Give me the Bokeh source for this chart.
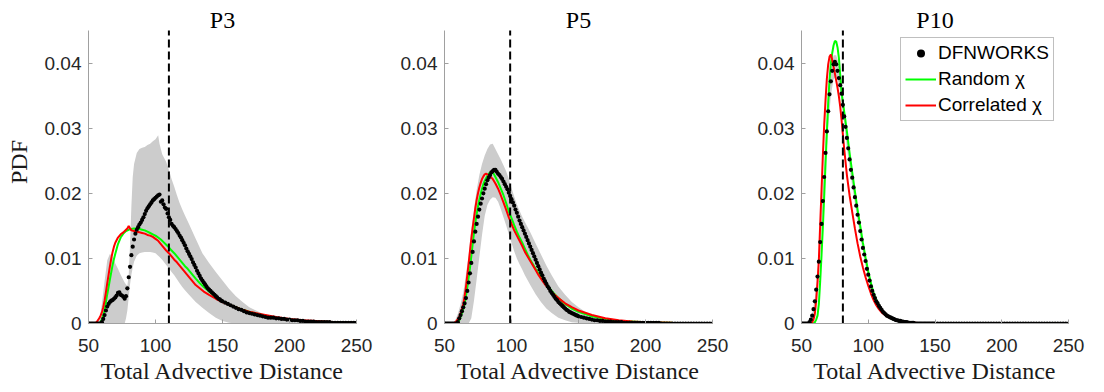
from bokeh.plotting import figure
from bokeh.layouts import row
from bokeh.models import (Range1d, FixedTicker, Legend, LegendItem, Label,
                          CustomJSTickFormatter)
from bokeh.embed import file_html
from bokeh.resources import INLINE

# ---------------- data ----------------
titles = ["P3", "P5", "P10"]
mean_dist = [110, 99, 81]
x_ticks = [50, 100, 150, 200, 250]
y_ticks = [0, 0.01, 0.02, 0.03, 0.04]
y_max = 0.045

# DFNWORKS bins: unit bins up to 150, then every other bin
dfn_x = list(range(50, 151)) + list(range(152, 251, 2))

p3_dfn = [0.0] * 10 + [
    0.0002, 0.0007, 0.0013, 0.0020, 0.0026, 0.0030, 0.0033, 0.0035, 0.0036, 0.0038,
    0.0040, 0.0043, 0.0047, 0.0048, 0.0044, 0.0043, 0.0041, 0.0038, 0.0042, 0.0054,
    0.0071, 0.0087, 0.0105, 0.0118, 0.0129, 0.0138, 0.0144, 0.0148, 0.0152, 0.0155,
    0.0159, 0.0163, 0.0168, 0.0173, 0.0177, 0.0180, 0.0183, 0.0186, 0.0189, 0.0191,
    0.0193, 0.0195, 0.0197, 0.0198, 0.0187, 0.0189, 0.0183, 0.0178, 0.0176, 0.0169,
    0.0163, 0.0159, 0.0153, 0.0150, 0.0148, 0.0145, 0.0142, 0.0139, 0.0135, 0.0132,
    0.0128, 0.0124, 0.0120, 0.0115, 0.0111, 0.0107, 0.0103, 0.0099, 0.0094, 0.0090,
    0.0086, 0.0081, 0.0077, 0.0073, 0.0069, 0.0066, 0.0063, 0.0060, 0.0057, 0.0054,
    0.0052, 0.0050, 0.0048, 0.0046, 0.0044, 0.0042, 0.0040, 0.0038, 0.0037, 0.0035,
    0.0034,
    0.0032, 0.0030, 0.0028, 0.0026, 0.0024, 0.0022, 0.0021, 0.0019, 0.0017, 0.0016,
    0.0015, 0.0014, 0.0013, 0.0012, 0.0011, 0.0010, 0.0009, 0.0009, 0.0009, 0.0008,
    0.0008, 0.0007, 0.0007, 0.0006, 0.0006, 0.0005, 0.0005, 0.0005, 0.0004, 0.0004,
    0.0003, 0.0003, 0.0003, 0.0003, 0.0002, 0.0002, 0.0002, 0.0002, 0.0002, 0.0002,
    0.0001, 0.0001, 0.0001, 0.0001, 0.0001, 0.0001, 0.0001, 0.0001, 0.0001, 0.0001]

p5_dfn = [0.0] * 10 + [
    0.0002, 0.0008, 0.0013, 0.0019, 0.0025, 0.0031, 0.0039, 0.0050, 0.0063, 0.0077,
    0.0093, 0.0110, 0.0126, 0.0141, 0.0153, 0.0164, 0.0175, 0.0184, 0.0192, 0.0200,
    0.0207, 0.0214, 0.0220, 0.0224, 0.0228, 0.0232, 0.0234, 0.0236, 0.0236, 0.0233,
    0.0230, 0.0228, 0.0225, 0.0222, 0.0218, 0.0214, 0.0210, 0.0206, 0.0201, 0.0196,
    0.0191, 0.0186, 0.0181, 0.0175, 0.0170, 0.0164, 0.0158, 0.0153, 0.0148, 0.0143,
    0.0138, 0.0133, 0.0128, 0.0123, 0.0118, 0.0113, 0.0108, 0.0103, 0.0098, 0.0093,
    0.0088, 0.0083, 0.0078, 0.0074, 0.0069, 0.0065, 0.0061, 0.0057, 0.0054, 0.0050,
    0.0047, 0.0044, 0.0041, 0.0038, 0.0036, 0.0033, 0.0031, 0.0029, 0.0027, 0.0025,
    0.0023, 0.0021, 0.0020, 0.0018, 0.0017, 0.0016, 0.0015, 0.0014, 0.0013, 0.0012,
    0.0011,
    0.0010, 0.0009, 0.0008, 0.0007, 0.0006, 0.0005, 0.0005, 0.0004, 0.0004, 0.0003,
    0.0003, 0.0003, 0.0002, 0.0002, 0.0002, 0.0002, 0.0001, 0.0001, 0.0001, 0.0001,
    0.0001, 0.0001, 0.0001, 0.0001, 0.0001, 0.0001, 0.0001, 0.0001, 0.0001, 0.0001] + [0.0] * 20

p10_dfn = [0.0] * 6 + [
    0.0002, 0.0006, 0.0012, 0.0022, 0.0034, 0.0052, 0.0072, 0.0095, 0.0125, 0.0153,
    0.0188, 0.0225, 0.0262, 0.0295, 0.0326, 0.0352, 0.0372, 0.0388, 0.0398, 0.0402,
    0.0398, 0.0388, 0.0377, 0.0366, 0.0353, 0.0336, 0.0318, 0.0302, 0.0285, 0.0269,
    0.0252, 0.0236, 0.0224, 0.0209, 0.0194, 0.0181, 0.0167, 0.0155, 0.0142, 0.0129,
    0.0116, 0.0106, 0.0096, 0.0084, 0.0075, 0.0066, 0.0057, 0.0050, 0.0044, 0.0039,
    0.0034, 0.0031, 0.0027, 0.0024, 0.0021, 0.0018, 0.0016, 0.0014, 0.0012, 0.0011,
    0.0010, 0.0009, 0.0008, 0.0007, 0.0006, 0.0005, 0.0005, 0.0004, 0.0004, 0.0003,
    0.0003, 0.0002, 0.0002, 0.0002, 0.0001, 0.0001, 0.0001, 0.0001, 0.0001] + [0.0] * 16 + [0.0] * 50

# Random chi (green)
p3_rand_x = [50, 58, 59, 60, 61, 62, 63, 64, 65, 66, 67, 68, 69, 70,
             72, 74, 76, 78, 80, 82, 84, 86, 88, 90, 92, 94, 96, 98, 100, 102,
             104, 106, 108, 110, 112, 114, 116, 118, 120, 122, 124, 126, 128, 130,
             133, 136, 140, 145, 150, 155, 160, 165, 170, 180, 190, 200, 210, 220, 235, 250]
p3_rand_y = [0, 0, 0.0002, 0.0006, 0.0012, 0.0020, 0.0033, 0.0045, 0.0056, 0.0068, 0.0079, 0.0090, 0.0099, 0.0107,
             0.0122, 0.0132, 0.0138, 0.0142, 0.0144, 0.0145, 0.0146, 0.0146, 0.0145, 0.0144, 0.0143, 0.0141, 0.0139, 0.0137, 0.0135, 0.0132,
             0.0129, 0.0125, 0.0121, 0.0117, 0.0112, 0.0108, 0.0103, 0.0098, 0.0093, 0.0088, 0.0084, 0.0079, 0.0074, 0.0069,
             0.0062, 0.0056, 0.0049, 0.0041, 0.0034, 0.0029, 0.0025, 0.0021, 0.0018, 0.0013, 0.0009, 0.0006, 0.0004, 0.0003, 0.0002, 0.0001]

p5_rand_x = [50, 59] + list(range(60, 89)) + list(range(90, 123, 2)) + [125, 130, 135, 140, 145, 150, 160, 170, 180, 190, 200, 220, 250]
p5_rand_y = [0, 0,
             0.0002, 0.0005, 0.0010, 0.0016, 0.0022, 0.0030, 0.0042, 0.0055, 0.0070, 0.0085,
             0.0103, 0.0122, 0.0139, 0.0155, 0.0168, 0.0180, 0.0190, 0.0199, 0.0207, 0.0214,
             0.0219, 0.0223, 0.0227, 0.0230, 0.0232, 0.0233, 0.0232, 0.0229, 0.0225,
             0.0217, 0.0207, 0.0197, 0.0185, 0.0172, 0.0162, 0.0151, 0.0141, 0.0132, 0.0124,
             0.0115, 0.0106, 0.0098, 0.0091, 0.0084, 0.0078, 0.0072,
             0.0064, 0.0050, 0.0039, 0.0030, 0.0023, 0.0018, 0.0011, 0.0007, 0.0004, 0.0003, 0.0002, 0.0001, 0]

p10_rand_x = [50, 59] + list(range(60, 83)) + list(range(84, 111, 2)) + [114, 118, 122, 126, 132, 140, 250]
p10_rand_y = [0, 0,
              0.0002, 0.0006, 0.0012, 0.0030, 0.0065, 0.0105, 0.0148, 0.0195, 0.0245, 0.0295,
              0.0340, 0.0375, 0.0400, 0.0415, 0.0427, 0.0434, 0.0433, 0.0424, 0.0408, 0.0382,
              0.0355, 0.0340, 0.0325,
              0.0295, 0.0262, 0.0232, 0.0203, 0.0175, 0.0150, 0.0124, 0.0101, 0.0080, 0.0062,
              0.0047, 0.0036, 0.0028, 0.0021,
              0.0012, 0.0007, 0.0004, 0.0002, 0.0001, 0, 0]

# Correlated chi (red)
p3_corr_x = [50, 55, 56, 57, 58, 59, 60, 61, 62, 63, 64, 65, 66, 67, 68, 69, 70,
             72, 74, 76, 78, 79, 80, 81, 82,
             84, 86, 88, 90, 92, 94, 96, 98, 100, 102, 104, 106, 108, 110, 112, 114,
             116, 118, 120, 122, 124, 126, 128, 130,
             133, 136, 140, 145, 150, 155, 160, 165, 170, 180, 190, 200, 210, 220, 235, 250]
p3_corr_y = [0, 0, 0.0002, 0.0005, 0.0008, 0.0012, 0.0017, 0.0025, 0.0035, 0.0048, 0.0062, 0.0075, 0.0088, 0.0100, 0.0110, 0.0118, 0.0124,
             0.0132, 0.0137, 0.0140, 0.0144, 0.0146, 0.0150, 0.0146, 0.0143,
             0.0142, 0.0141, 0.0140, 0.0139, 0.0138, 0.0136, 0.0135, 0.0133, 0.0130, 0.0127, 0.0122, 0.0117, 0.0112, 0.0108, 0.0103, 0.0098,
             0.0094, 0.0089, 0.0084, 0.0079, 0.0074, 0.0069, 0.0064, 0.0059,
             0.0054, 0.0049, 0.0044, 0.0038, 0.0033, 0.0029, 0.0025, 0.0021, 0.0018, 0.0014, 0.0010, 0.0007, 0.0005, 0.0004, 0.0002, 0.0001]

p5_corr_x = [50, 57] + list(range(58, 87)) + list(range(88, 123, 2)) + [125, 130, 135, 140, 145, 150, 160, 170, 180, 190, 200, 220, 250]
p5_corr_y = [0, 0,
             0.0002, 0.0004, 0.0007, 0.0010, 0.0016, 0.0022, 0.0030, 0.0042, 0.0056, 0.0074,
             0.0092, 0.0111, 0.0130, 0.0147, 0.0162, 0.0177, 0.0190, 0.0200, 0.0209, 0.0216,
             0.0222, 0.0226, 0.0229, 0.0230, 0.0229, 0.0228, 0.0226, 0.0224, 0.0222,
             0.0215, 0.0207, 0.0197, 0.0186, 0.0175, 0.0163, 0.0153, 0.0143, 0.0135, 0.0127,
             0.0119, 0.0110, 0.0103, 0.0096, 0.0089, 0.0082, 0.0075, 0.0069,
             0.0060, 0.0048, 0.0039, 0.0031, 0.0025, 0.0020, 0.0013, 0.0008, 0.0005, 0.0003, 0.0002, 0.0001, 0]

p10_corr_x = [50, 57] + list(range(58, 83)) + list(range(84, 111, 2)) + [114, 118, 122, 126, 130, 135, 140, 250]
p10_corr_y = [0, 0,
              0.0002, 0.0006, 0.0015, 0.0035, 0.0063, 0.0098, 0.0152, 0.0204, 0.0258, 0.0305,
              0.0343, 0.0376, 0.0398, 0.0410, 0.0413, 0.0405, 0.0395, 0.0384, 0.0373, 0.0362,
              0.0349, 0.0333, 0.0313, 0.0290, 0.0268,
              0.0228, 0.0197, 0.0171, 0.0146, 0.0123, 0.0103, 0.0086, 0.0071, 0.0058, 0.0046,
              0.0036, 0.0028, 0.0022, 0.0017,
              0.0011, 0.0007, 0.0005, 0.0003, 0.0002, 0.0001, 0, 0]

# ensemble envelope (gray band)
p3_band_x = [56, 58, 60, 62, 64, 66, 68, 70, 72, 74, 76,
             77, 78, 79, 80, 81, 82, 83, 84,
             86, 88, 90, 92, 94, 96, 98, 100, 102,
             103, 105, 108,
             110, 112, 114, 116, 118, 120, 122,
             125, 130, 135, 140, 145, 150, 155, 160, 165, 170,
             180, 190, 200, 220, 250]
p3_band_hi = [0, 0.0005, 0.0030, 0.0065, 0.0097, 0.0107, 0.0102, 0.0092, 0.0084, 0.0075, 0.0067,
              0.0063, 0.0060, 0.0058, 0.0075, 0.0120, 0.0180, 0.0225, 0.0245,
              0.0262, 0.0268, 0.0270, 0.0271, 0.0274, 0.0276, 0.0280, 0.0283, 0.0289,
              0.0276, 0.0260, 0.0248,
              0.0236, 0.0222, 0.0210, 0.0197, 0.0185, 0.0175, 0.0166,
              0.0153, 0.0130, 0.0108, 0.0093, 0.0079, 0.0066, 0.0053, 0.0042, 0.0033, 0.0025,
              0.0015, 0.0009, 0.0006, 0.0003, 0.0001]
p3_band_lo = [0, 0, 0, 0, 0, 0, 0, 0, 0, 0, 0,
              0, 0.0008, 0.0020, 0.0040, 0.0060, 0.0075, 0.0086, 0.0095,
              0.0104, 0.0108, 0.0109, 0.0110, 0.0110, 0.0110, 0.0109, 0.0108, 0.0104,
              0.0102, 0.0098, 0.0090,
              0.0085, 0.0079, 0.0074, 0.0068, 0.0062, 0.0056, 0.0051,
              0.0044, 0.0033, 0.0024, 0.0016, 0.0009, 0.0004, 0.0001, 0, 0, 0,
              0, 0, 0, 0, 0]

p5_band_x = list(range(56, 111, 2)) + [114, 118, 122, 126, 130, 135, 140, 145, 150, 155, 160, 170, 180, 190, 200, 220, 250]
p5_band_hi = [0, 0.0005, 0.0015, 0.0030, 0.0048, 0.0075, 0.0105, 0.0145, 0.0175, 0.0205,
              0.0228, 0.0245, 0.0258, 0.0268, 0.0275, 0.0276, 0.0268, 0.0260, 0.0252, 0.0243,
              0.0234, 0.0222, 0.0208, 0.0195, 0.0183, 0.0173, 0.0164, 0.0156,
              0.0140, 0.0123, 0.0106, 0.0089, 0.0074, 0.0057, 0.0044, 0.0033, 0.0025, 0.0018,
              0.0013, 0.0008, 0.0005, 0.0003, 0.0002, 0.0001, 0]
p5_band_lo = [0, 0, 0, 0, 0, 0, 0, 0.0008, 0.0035, 0.0068,
              0.0102, 0.0136, 0.0165, 0.0182, 0.0190, 0.0194, 0.0193, 0.0187, 0.0176, 0.0163,
              0.0151, 0.0137, 0.0124, 0.0111, 0.0100, 0.0091, 0.0083, 0.0074,
              0.0059, 0.0045, 0.0033, 0.0023, 0.0016, 0.0009, 0.0005, 0.0002, 0.0001, 0,
              0, 0, 0, 0, 0, 0, 0]

p10_band_x = list(range(56, 101, 2)) + [104, 108, 112, 116, 120, 130, 140, 250]
p10_band_hi = [0, 0.0015, 0.0040, 0.0080, 0.0135, 0.0210, 0.0280, 0.0345, 0.0390, 0.0412,
               0.0412, 0.0398, 0.0368, 0.0332, 0.0298, 0.0264, 0.0234, 0.0205, 0.0177, 0.0151,
               0.0126, 0.0103, 0.0083,
               0.0051, 0.0032, 0.0019, 0.0011, 0.0007, 0.0002, 0, 0]
p10_band_lo = [0, 0, 0.0025, 0.0060, 0.0110, 0.0170, 0.0240, 0.0300, 0.0350, 0.0375,
               0.0380, 0.0368, 0.0340, 0.0305, 0.0270, 0.0240, 0.0210, 0.0184, 0.0158, 0.0133,
               0.0110, 0.0088, 0.0069,
               0.0039, 0.0022, 0.0012, 0.0006, 0.0003, 0, 0, 0]

panels = [
    dict(dfn=p3_dfn, rx=p3_rand_x, ry=p3_rand_y, cx=p3_corr_x, cy=p3_corr_y,
         bx=p3_band_x, bhi=p3_band_hi, blo=p3_band_lo),
    dict(dfn=p5_dfn, rx=p5_rand_x, ry=p5_rand_y, cx=p5_corr_x, cy=p5_corr_y,
         bx=p5_band_x, bhi=p5_band_hi, blo=p5_band_lo),
    dict(dfn=p10_dfn, rx=p10_rand_x, ry=p10_rand_y, cx=p10_corr_x, cy=p10_corr_y,
         bx=p10_band_x, bhi=p10_band_hi, blo=p10_band_lo),
]
for d in panels:
    assert len(d["dfn"]) == len(dfn_x), (len(d["dfn"]), len(dfn_x))
    assert len(d["rx"]) == len(d["ry"]), (len(d["rx"]), len(d["ry"]))
    assert len(d["cx"]) == len(d["cy"]), (len(d["cx"]), len(d["cy"]))
    assert len(d["bx"]) == len(d["bhi"]) == len(d["blo"]), (len(d["bx"]), len(d["bhi"]), len(d["blo"]))

# ---------------- layout ----------------
FRAME_H_DATA = 293          # px covering 0 .. y_max
EXTRA_TOP = 30              # px above y_max inside frame (title lives here)
FRAME_H = FRAME_H_DATA + EXTRA_TOP
px_per_unit = FRAME_H_DATA / y_max
y_top = y_max + EXTRA_TOP / px_per_unit

left_borders = [88, 68, 69]
right_borders = [20, 20, 28]
frame_widths = [268, 268, 267]

SANS = "Liberation Sans"
SERIF = "Liberation Serif"
AX_COLOR = "#a0a0a0"
TXT = "#262626"

figs = []
for i, d in enumerate(panels):
    p = figure(frame_width=frame_widths[i], frame_height=FRAME_H,
               min_border_left=left_borders[i], min_border_right=right_borders[i],
               min_border_top=0, min_border_bottom=66,
               x_range=Range1d(50, 250), y_range=Range1d(0, y_top),
               output_backend="svg", toolbar_location=None,
               background_fill_color="white", border_fill_color="white")
    p.outline_line_color = None
    p.grid.visible = False

    p.varea(x=d["bx"], y1=d["blo"], y2=d["bhi"], fill_color="#cccccc", fill_alpha=1.0)
    r_g = p.line(d["rx"], d["ry"], line_color="#00ff00", line_width=2)
    r_r = p.line(d["cx"], d["cy"], line_color="#ff0000", line_width=2)
    r_d = p.scatter(dfn_x, d["dfn"], size=4.2, marker="circle",
                    fill_color="black", line_color=None)
    p.segment(x0=[mean_dist[i]], y0=[0], x1=[mean_dist[i]], y1=[y_max],
              line_color="black", line_width=2, line_dash="8 4")

    # title
    p.add_layout(Label(x=150, y=y_top - 19.5 / px_per_unit, text=titles[i],
                       text_align="center", text_baseline="alphabetic",
                       text_font=SERIF, text_font_size="24px", text_color="black"))

    for ax in (p.xaxis[0], p.yaxis[0]):
        ax.axis_line_color = AX_COLOR
        ax.axis_line_width = 1
        ax.major_tick_line_color = AX_COLOR
        ax.major_tick_in = 4
        ax.major_tick_out = 0
        ax.minor_tick_line_color = None
        ax.major_label_text_font = SANS
        ax.major_label_text_font_size = "19px"
        ax.major_label_text_color = TXT
        ax.axis_label_text_font = SERIF
        ax.axis_label_text_font_size = "24px"
        ax.axis_label_text_font_style = "normal"
        ax.axis_label_text_color = "#1a1a1a"
    p.xaxis.ticker = FixedTicker(ticks=x_ticks)
    p.yaxis.ticker = FixedTicker(ticks=y_ticks)
    p.yaxis.bounds = (0, y_max)
    p.yaxis.formatter = CustomJSTickFormatter(
        code="return (tick === 0) ? '0' : tick.toFixed(2);")
    p.yaxis.major_label_standoff = 7
    p.xaxis.major_label_standoff = 15
    p.xaxis.axis_label = "Total Advective Distance"
    p.xaxis.axis_label_standoff = 3
    if i == 0:
        p.yaxis.axis_label = "PDF"
        p.yaxis.axis_label_standoff = 10

    if i == 2:
        legend = Legend(items=[LegendItem(label="DFNWORKS", renderers=[r_d]),
                               LegendItem(label="Random \u03c7", renderers=[r_g]),
                               LegendItem(label="Correlated \u03c7", renderers=[r_r])],
                        location=(99, 202))
        legend.label_text_font = SANS
        legend.label_text_font_size = "19px"
        legend.label_text_color = "black"
        legend.glyph_width = 31
        legend.glyph_height = 20
        legend.label_height = 20
        legend.label_standoff = 2
        legend.spacing = 4
        legend.padding = 4
        legend.margin = 0
        legend.border_line_color = "#808080"
        legend.border_line_width = 1
        legend.background_fill_color = "white"
        legend.background_fill_alpha = 1.0
        p.add_layout(legend)
    figs.append(p)

layout = row(*figs)
open("out.html", "w").write(file_html(layout, INLINE))
